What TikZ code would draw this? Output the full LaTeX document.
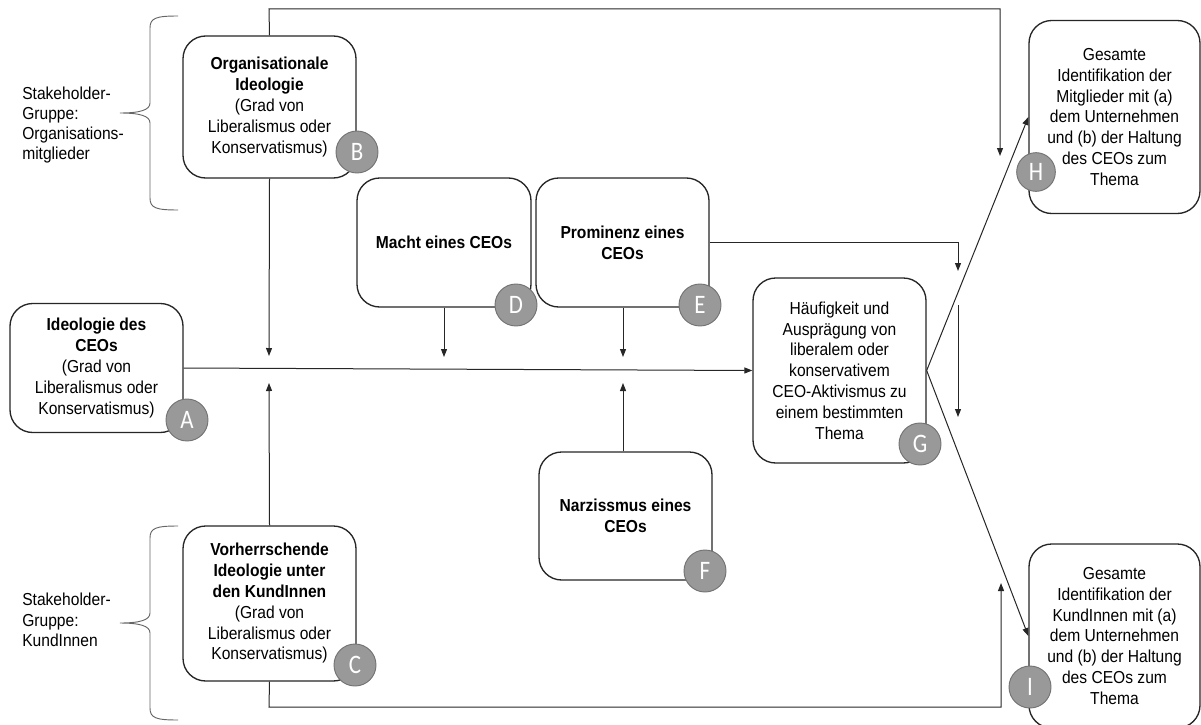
\documentclass[tikz,border=0pt]{standalone}
\usepackage{fontspec}
\setmainfont{Liberation Sans}[FakeStretch=0.9]
\newfontfamily\circfont{Carlito}[FakeStretch=0.86]
\usetikzlibrary{arrows.meta,calc}
\begin{document}
\begin{tikzpicture}[x=0.75pt,y=-0.75pt,
  box/.style={draw=black!85,line width=1pt,rounded corners=17pt,fill=white,
    align=center,inner sep=0pt,font=\fontsize{13}{15.6}\selectfont},
  badge/.style={circle,draw=black!55,line width=0.7pt,fill=black!40,
    minimum size=31.5pt,inner sep=0pt,text=white,font=\circfont\fontsize{20}{20}\selectfont},
  conn/.style={draw=black!85,line width=0.75pt},
  arr/.style={conn,-{Triangle[length=6pt,width=4.5pt]}},
  brace/.style={draw=black!60,line width=0.7pt},
  lbl/.style={align=left,anchor=west,inner sep=0pt,font=\fontsize{13}{15.2}\selectfont}
]
\useasboundingbox (0,0) rectangle (1201,724);

% braces and group labels
\draw[brace] (178,16) .. controls (156,16) and (150,18) .. (150,28) -- (150,103)
  .. controls (150,110) and (140,113) .. (120,113)
  .. controls (140,113) and (150,116) .. (150,123) -- (150,198)
  .. controls (150,208) and (156,210) .. (178,210);
\draw[brace] (178,526) .. controls (156,526) and (150,528) .. (150,538) -- (150,613)
  .. controls (150,620) and (140,623) .. (120,623)
  .. controls (140,623) and (150,626) .. (150,633) -- (150,708)
  .. controls (150,718) and (156,720) .. (178,720);
\node[lbl] (g1) at (22,125) {Stakeholder-\\Gruppe:\\Organisations-\\mitglieder};
\node[lbl] (g2) at (22,620) {Stakeholder-\\Gruppe:\\KundInnen};

% boxes
\node[box,minimum width=129.75pt,minimum height=106.5pt] (B) at (269.5,107)
  {\textbf{Organisationale}\\\textbf{Ideologie}\\(Grad von\\Liberalismus oder\\Konservatismus)};
\node[box,minimum width=129.75pt,minimum height=96.75pt] (A) at (96.5,368)
  {\textbf{Ideologie des}\\\textbf{CEOs}\\(Grad von\\Liberalismus oder\\Konservatismus)};
\node[box,minimum width=129.75pt,minimum height=116.25pt] (C) at (269.5,603.5)
  {\textbf{Vorherrschende}\\\textbf{Ideologie unter}\\\textbf{den KundInnen}\\(Grad von\\Liberalismus oder\\Konservatismus)};
\node[box,minimum width=130.5pt,minimum height=96.75pt] (D) at (444,242.5)
  {\textbf{Macht eines CEOs}};
\node[box,minimum width=129.75pt,minimum height=96.75pt] (E) at (622.5,242.5)
  {\textbf{Prominenz eines}\\\textbf{CEOs}};
\node[box,minimum width=129.75pt,minimum height=96pt] (F) at (625.5,516)
  {\textbf{Narzissmus eines}\\\textbf{CEOs}};
\node[box,minimum width=129.75pt,minimum height=138.75pt] (G) at (839.5,370.5)
  {Häufigkeit und\\Ausprägung von\\liberalem oder\\konservativem\\CEO-Aktivismus zu\\einem bestimmten\\Thema};
\node[box,minimum width=128.25pt,minimum height=144.75pt] (H) at (1114.5,117)
  {Gesamte\\Identifikation der\\Mitglieder mit (a)\\dem Unternehmen\\und (b) der Haltung\\des CEOs zum\\Thema};
\node[box,minimum width=128.25pt,minimum height=138pt] (I) at (1114.5,636)
  {Gesamte\\Identifikation der\\KundInnen mit (a)\\dem Unternehmen\\und (b) der Haltung\\des CEOs zum\\Thema};

% free connector ends
\coordinate (t1) at (269,9);
\coordinate (t2) at (1000,9);
\coordinate (hA) at (1000,156);
\coordinate (bA) at (269,356);
\coordinate (cA) at (269,383);
\coordinate (dA) at (444,357);
\coordinate (eA) at (623,357);
\coordinate (fA) at (623,383);
\coordinate (e1) at (958,242);
\coordinate (eB) at (958,271);
\coordinate (v1) at (958,305);
\coordinate (v2) at (958,417);
\coordinate (c1) at (269,707);
\coordinate (c2) at (1001,707);
\coordinate (iA) at (1001,583);

% connectors
\draw[arr] (B.north) -- (t1) -- (t2) -- (hA);
\draw[arr] (B.south) -- (bA);
\draw[arr] (C.north) -- (cA);
\draw[arr] (A.east) -- (G.west);
\draw[arr] (D.south -| dA) -- (dA);
\draw[arr] (E.south -| eA) -- (eA);
\draw[arr] (F.north -| fA) -- (fA);
\draw[arr] (E.east |- e1) -- (e1) -- (eB);
\draw[arr] (v1) -- (v2);
\draw[arr] (G.east) -- (H.west);
\draw[arr] (G.east) -- (I.west);
\draw[arr] (C.south) -- (c1) -- (c2) -- (iA);

% badges
\node[badge] (bB) at (357,152) {B};
\node[badge] (bA2) at (187,420) {A};
\node[badge] (bC) at (355,665) {C};
\node[badge] (bD) at (516,305) {D};
\node[badge] (bE) at (700,305) {E};
\node[badge] (bF) at (705,571) {F};
\node[badge] (bG) at (920,444) {G};
\node[badge,minimum size=29pt] (bH) at (1036,172) {H};
\node[badge] (bI) at (1030,687) {I};
\end{tikzpicture}
\end{document}
